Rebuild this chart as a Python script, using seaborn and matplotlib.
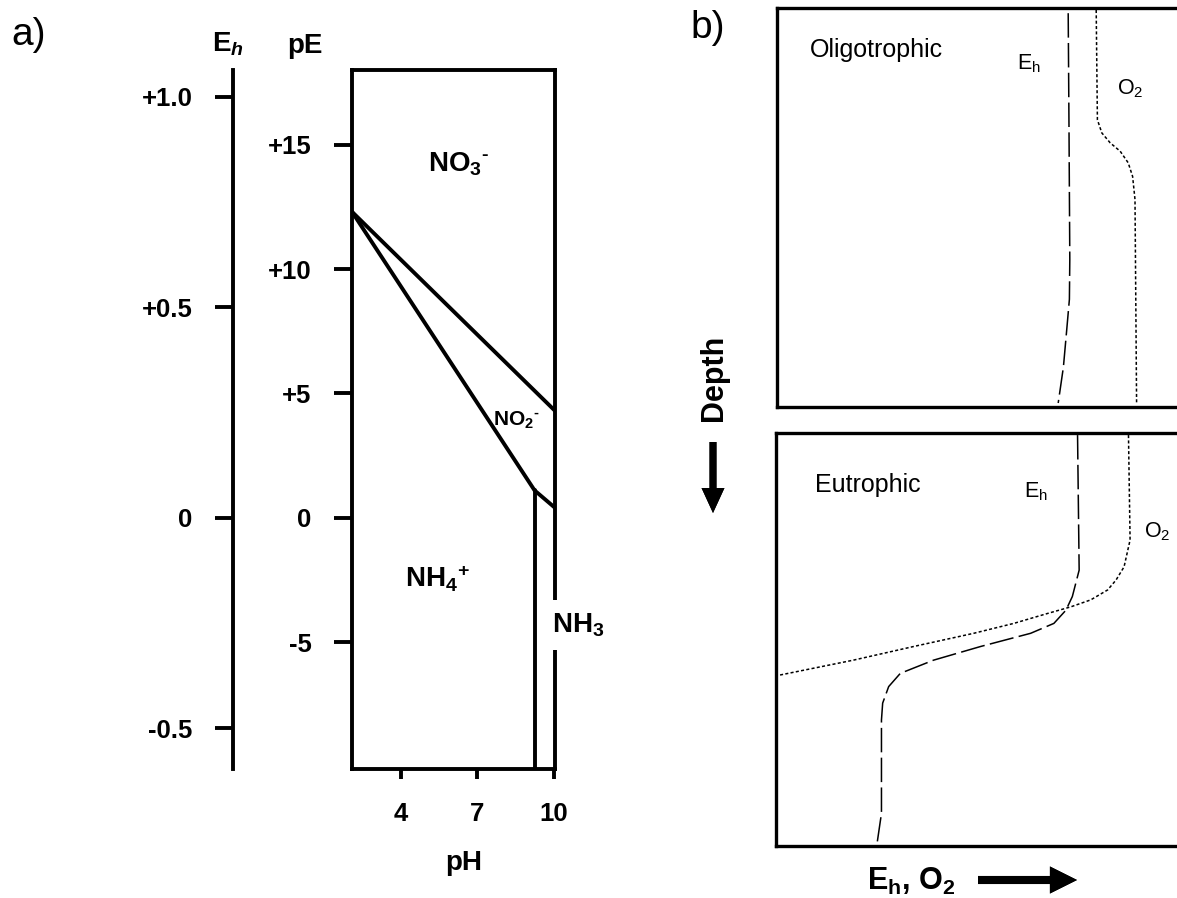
import matplotlib
matplotlib.use("Agg")
import matplotlib.pyplot as plt
import seaborn as sns

# panel a: pE - pH diagram for nitrogen
ph_ticks = [4, 7, 10]
pe_ticks = [15, 10, 5, 0, -5]
pe_labels = ["+15", "+10", "+5", "0", "-5"]
eh_ticks = [1.0, 0.5, 0.0, -0.5]
eh_labels = ["+1.0", "+0.5", "0", "-0.5"]
ph_lim = (2.1, 10.05)
pe_lim = (-10.1, 18.0)
EH_PER_PE = 0.0591

no3_no2_ph = [2.1, 10.05]
no3_no2_pe = [12.3, 4.3]
no2_nh4_ph = [2.1, 9.25, 10.05]
no2_nh4_pe = [12.3, 1.1, 0.4]
nh4_nh3_ph = [9.25, 9.25]
nh4_nh3_pe = [1.1, -10.1]

# panel b: depth profiles, relative units (x 0-100, depth 0-100)
olig_eh_depth = [1.3, 30, 63, 73, 81, 90, 99]
olig_eh_x = [72.8, 73.0, 73.2, 73.1, 72.4, 71.6, 70.3]
olig_o2_depth = [0.5, 28, 31.3, 33.8, 35.9, 38.8, 42.2, 48, 99.3]
olig_o2_x = [79.8, 80.1, 81.2, 83.3, 85.8, 87.8, 88.9, 89.5, 89.9]

eutr_eh_depth = [0.5, 33.2, 39.6, 42.9, 46.1, 48.5, 51.7, 55, 58.2, 61.4, 65.4, 69.5, 92.1, 99.4]
eutr_eh_x = [75.2, 75.6, 73.9, 72.3, 69.3, 63.5, 51, 39.3, 31, 28.1, 26.6, 26.3, 26.3, 25.2]
eutr_o2_depth = [0.5, 25.9, 32.4, 35.6, 38, 40.4, 42.1, 43.7, 46.1, 48.5, 51.7, 55, 58.6]
eutr_o2_x = [87.9, 88.3, 86.8, 84.8, 82.7, 78.5, 73.5, 67.7, 59.3, 49.3, 34.3, 19.3, 1.0]

sns.set_style("white", {"axes.edgecolor": "black", "xtick.color": "black",
                        "ytick.color": "black", "text.color": "black",
                        "axes.labelcolor": "black"})
plt.rcParams["font.family"] = ["Liberation Sans", "DejaVu Sans"]
plt.rcParams["mathtext.fontset"] = "custom"
plt.rcParams["mathtext.rm"] = "Liberation Sans"
plt.rcParams["mathtext.bf"] = "Liberation Sans:bold"
plt.rcParams["mathtext.it"] = "Liberation Sans:italic:bold"

W, H = 1177, 898
HY = "\u2010"  # short hyphen used as the ion charge


def box(left, top, right, bottom):
    return [left / W, 1 - bottom / H, (right - left) / W, (bottom - top) / H]


fig = plt.figure(figsize=(W / 100, H / 100), dpi=100)

# ---- panel a ----
tick_fs = 18.5
ax_eh = fig.add_axes(box(233, 70, 243, 769))
ax_eh.set_ylim(pe_lim[0] * EH_PER_PE, pe_lim[1] * EH_PER_PE)
for s in ["top", "right", "bottom"]:
    ax_eh.spines[s].set_visible(False)
ax_eh.spines["left"].set_linewidth(2.8)
ax_eh.set_xticks([])
ax_eh.set_yticks(eh_ticks, labels=eh_labels, fontsize=tick_fs, fontweight="bold")
ax_eh.tick_params(axis="y", left=True, direction="out", length=13, width=2.8, pad=16)
ax_eh.patch.set_alpha(0)

ax_pe = fig.add_axes(box(352, 70, 555, 769))
lw = 2.8
sns.lineplot(x=no3_no2_ph, y=no3_no2_pe, sort=False, estimator=None,
             color="black", lw=lw, ax=ax_pe)
sns.lineplot(x=no2_nh4_ph, y=no2_nh4_pe, sort=False, estimator=None,
             color="black", lw=lw, ax=ax_pe)
sns.lineplot(x=nh4_nh3_ph, y=nh4_nh3_pe, sort=False, estimator=None,
             color="black", lw=lw, ax=ax_pe)
ax_pe.set_xlim(*ph_lim)
ax_pe.set_ylim(*pe_lim)
for s in ax_pe.spines.values():
    s.set_linewidth(lw)
ax_pe.set_yticks(pe_ticks, labels=pe_labels, fontsize=tick_fs, fontweight="bold")
ax_pe.set_xticks(ph_ticks, labels=[str(v) for v in ph_ticks], fontsize=tick_fs, fontweight="bold")
ax_pe.tick_params(axis="y", left=True, direction="out", length=13, width=lw, pad=16)
ax_pe.tick_params(axis="x", bottom=True, direction="out", length=7, width=lw, pad=17)
ax_pe.set_xlabel("pH", fontsize=20, fontweight="bold")
ax_pe.xaxis.set_label_coords((464 - 352) / 203, (769 - 850) / 699)

ax_pe.text(5.08, 13.9, r"NO$_\mathregular{3}{}^\mathregular{%s}$" % HY, fontsize=20,
           fontweight="bold", va="baseline")
ax_pe.text(7.63, 3.7, r"NO$_\mathregular{2}{}^\mathregular{%s}$" % HY, fontsize=15,
           fontweight="bold", va="baseline")
ax_pe.text(4.18, -2.8, r"NH$_\mathregular{4}{}^\mathregular{+}$", fontsize=20,
           fontweight="bold", va="baseline")
ax_pe.text(9.94, -4.6, r"NH$_\mathregular{3}$", fontsize=20, fontweight="bold",
           va="baseline", zorder=5,
           bbox=dict(boxstyle="square,pad=0.4", fc="white", ec="none"))

fig.text(11 / W, 1 - 45 / H, "a)", fontsize=28, va="baseline")
fig.text(212 / W, 1 - 52 / H, r"E$_\mathit{h}$", fontsize=20, fontweight="bold", va="baseline")
fig.text(287 / W, 1 - 53 / H, "pE", fontsize=20, fontweight="bold", va="baseline")

# ---- panel b ----
eh_style = (0, (16, 3.5))
o2_style = (0, (2, 1.5))
prof_lw = 1.1

ax_top = fig.add_axes(box(777, 8, 1177, 407))
ax_bot = fig.add_axes(box(776, 433, 1177, 846))

profiles = [
    (ax_top, olig_eh_x, olig_eh_depth, olig_o2_x, olig_o2_depth),
    (ax_bot, eutr_eh_x, eutr_eh_depth, eutr_o2_x, eutr_o2_depth),
]
for ax, ex, ed, ox, od in profiles:
    sns.lineplot(x=ex, y=ed, sort=False, estimator=None, orient="y",
                 color="black", lw=prof_lw, linestyle=eh_style, ax=ax)
    sns.lineplot(x=ox, y=od, sort=False, estimator=None, orient="y",
                 color="black", lw=prof_lw, linestyle=o2_style, ax=ax)
    ax.set_xlim(0, 100)
    ax.set_ylim(100, 0)
    ax.set_xticks([])
    ax.set_yticks([])
    ax.spines["right"].set_visible(False)
    for s in ["top", "left", "bottom"]:
        ax.spines[s].set_linewidth(2.4)

ax_top.text(8.25, 12.25, "Oligotrophic", fontsize=18, va="baseline")
ax_top.text(60, 15.5, r"E$_\mathregular{h}$", fontsize=15.5, va="baseline")
ax_top.text(85, 21.75, r"O$_\mathregular{2}$", fontsize=15.5, va="baseline")

ax_bot.text(9.75, 14.3, "Eutrophic", fontsize=18, va="baseline")
ax_bot.text(61.75, 15.7, r"E$_\mathregular{h}$", fontsize=15.5, va="baseline")
ax_bot.text(91.75, 25.2, r"O$_\mathregular{2}$", fontsize=15.5, va="baseline")

fig.text(690 / W, 1 - 38 / H, "b)", fontsize=28, va="baseline")
fig.text(714 / W, 1 - 378 / H, "Depth", fontsize=22, fontweight="bold",
         rotation=90, ha="center", va="center")
fig.text(867 / W, 1 - 890 / H, r"E$_\mathregular{h}$, O$_\mathregular{2}$",
         fontsize=22, fontweight="bold", va="baseline")

arrow_kw = dict(facecolor="black", edgecolor="none", shrink=0)
fig.add_artist(plt.annotate("", xy=(713 / W, 1 - 513 / H), xytext=(713 / W, 1 - 442 / H),
                            xycoords="figure fraction", textcoords="figure fraction",
                            arrowprops=dict(width=5, headwidth=16.5, headlength=18, **arrow_kw)))
fig.add_artist(plt.annotate("", xy=(1077 / W, 1 - 880 / H), xytext=(978 / W, 1 - 880 / H),
                            xycoords="figure fraction", textcoords="figure fraction",
                            arrowprops=dict(width=5.8, headwidth=19.5, headlength=19.5, **arrow_kw)))

fig.savefig("out.png", dpi=100)
